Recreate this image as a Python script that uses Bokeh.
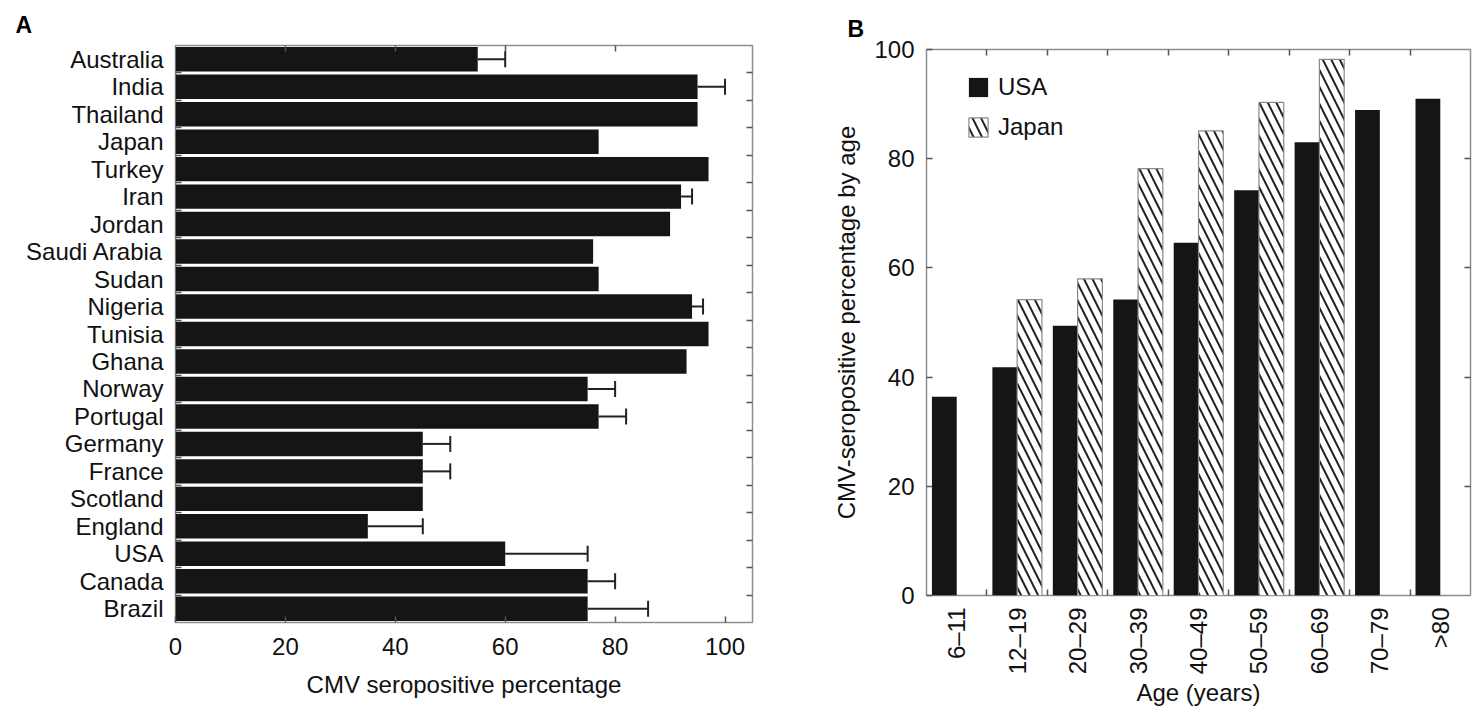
import math
from bokeh.plotting import figure
from bokeh.models import (ColumnDataSource, FixedTicker, LinearAxis, Range1d, Whisker,
                          TeeHead, Legend, LegendItem)
from bokeh.transform import dodge
from bokeh.layouts import row, column
from bokeh.embed import file_html
from bokeh.resources import INLINE

# ---------------- data ----------------
countries = ["Australia", "India", "Thailand", "Japan", "Turkey", "Iran", "Jordan",
             "Saudi Arabia", "Sudan", "Nigeria", "Tunisia", "Ghana", "Norway", "Portugal",
             "Germany", "France", "Scotland", "England", "USA", "Canada", "Brazil"]
seropositive = [55, 95, 95, 77, 97, 92, 90, 76, 77, 94, 97, 93, 75, 77, 45, 45, 45, 35, 60, 75, 75]
error_upper = [5, 5, 0, 0, 0, 2, 0, 0, 0, 2, 0, 0, 5, 5, 5, 5, 0, 10, 15, 5, 11]
x_ticks_a = [0, 20, 40, 60, 80, 100]

age_groups = ["6\u201311", "12\u201319", "20\u201329", "30\u201339", "40\u201349",
              "50\u201359", "60\u201369", "70\u201379", ">80"]
usa_by_age = [36.4, 41.8, 49.4, 54.2, 64.6, 74.2, 83.0, 88.9, 91.0]
japan_by_age = [float("nan"), 54.2, 58.0, 78.2, 85.1, 90.3, 98.2, float("nan"), float("nan")]
y_ticks_b = [0, 20, 40, 60, 80, 100]

FONT = "Liberation Sans"
FS = "24px"
FRAME = "#8e8e8e"
TICK = "#555555"
BAR = "#151515"


def style_axis(ax, label_standoff, title_standoff):
    ax.axis_line_color = None
    ax.major_label_text_font = FONT
    ax.major_label_text_font_size = FS
    ax.major_label_text_color = "#111111"
    ax.major_label_standoff = label_standoff
    ax.axis_label_text_font = FONT
    ax.axis_label_text_font_size = FS
    ax.axis_label_text_font_style = "normal"
    ax.axis_label_text_color = "#111111"
    ax.axis_label_standoff = title_standoff
    ax.major_tick_line_color = TICK
    ax.minor_tick_line_color = TICK
    ax.major_tick_line_width = 1.5
    ax.minor_tick_line_width = 1.5


def tick_only_axis(minor):
    return LinearAxis(ticker=FixedTicker(ticks=[], minor_ticks=minor), axis_line_color=None,
                      major_tick_in=0, major_tick_out=0, minor_tick_in=6, minor_tick_out=0,
                      minor_tick_line_color=TICK, minor_tick_line_width=1.5,
                      major_label_standoff=0)


def panel_title(p, letter, offset):
    p.title.text = letter
    p.title.align = "left"
    p.title.offset = offset
    p.title.text_font = FONT
    p.title.text_font_size = "23px"
    p.title.text_font_style = "bold"
    p.title.text_color = "#000000"
    p.title.standoff = 15


# ---------------- panel A ----------------
n = len(countries)
ypos = [n - 1 - i for i in range(n)]
srcA = ColumnDataSource(dict(y=ypos, v=seropositive))

pA = figure(frame_width=577, frame_height=577, x_range=Range1d(0, 105),
            y_range=Range1d(-0.5, n - 0.5), output_backend="svg", toolbar_location=None,
            min_border_left=175, min_border_right=26, min_border_top=45, min_border_bottom=70)
pA.hbar(y="y", left=0, right="v", height=0.89, source=srcA, fill_color=BAR, line_color=None)

wb = [ypos[i] for i in range(n) if error_upper[i] > 0]
wl = [seropositive[i] for i in range(n) if error_upper[i] > 0]
wu = [seropositive[i] + error_upper[i] for i in range(n) if error_upper[i] > 0]
srcW = ColumnDataSource(dict(base=wb, lower=wl, upper=wu))
pA.add_layout(Whisker(source=srcW, base="base", lower="lower", upper="upper", dimension="width",
                      line_width=2, line_color="#222222", lower_head=None,
                      upper_head=TeeHead(size=16, line_width=2, line_color="#222222")))

pA.grid.visible = False
pA.outline_line_color = FRAME
pA.outline_line_width = 1.5

xa = pA.xaxis[0]
ya = pA.yaxis[0]
style_axis(xa, 15, 13)
style_axis(ya, 12, 12)
xa.ticker = FixedTicker(ticks=x_ticks_a)
xa.axis_label = "CMV seropositive percentage"
xa.major_tick_in = 6
xa.major_tick_out = 0
ya.ticker = FixedTicker(ticks=ypos, minor_ticks=[k + 0.5 for k in range(n - 1)])
ya.major_label_overrides = {ypos[i]: countries[i] for i in range(n)}
ya.major_tick_in = 0
ya.major_tick_out = 0
ya.minor_tick_in = 6
ya.minor_tick_out = 0

pA.add_layout(tick_only_axis(x_ticks_a[1:-1]), "above")
pA.add_layout(tick_only_axis([k + 0.5 for k in range(n - 1)]), "right")
panel_title(pA, "A", -160)

# ---------------- panel B ----------------
m = len(age_groups)
centers = [i + 0.5 for i in range(m)]
srcB = ColumnDataSource(dict(c=centers, usa=usa_by_age, japan=japan_by_age))

pB = figure(frame_width=544, frame_height=546, x_range=Range1d(0, m), y_range=Range1d(0, 100),
            output_backend="svg", toolbar_location=None,
            min_border_left=148, min_border_right=4, min_border_top=49, min_border_bottom=100)
r_usa = pB.vbar(x=dodge("c", -0.205, range=pB.x_range), top="usa", bottom=0, width=0.41,
                source=srcB, fill_color=BAR, line_color=None)
r_jp = pB.vbar(x=dodge("c", 0.205, range=pB.x_range), top="japan", bottom=0, width=0.41,
               source=srcB, fill_color="white", line_color="#8a8a8a", line_width=1.2,
               hatch_pattern="\\", hatch_color="#222222", hatch_scale=17, hatch_weight=2)

pB.grid.visible = False
pB.outline_line_color = FRAME
pB.outline_line_width = 1.5

xb = pB.xaxis[0]
yb = pB.yaxis[0]
style_axis(xb, 12, 2)
style_axis(yb, 12, 11)
xb.ticker = FixedTicker(ticks=centers, minor_ticks=list(range(1, m)))
xb.major_label_overrides = {centers[i]: age_groups[i] for i in range(m)}
xb.major_label_orientation = math.pi / 2
xb.major_tick_in = 0
xb.major_tick_out = 0
xb.minor_tick_in = 6
xb.minor_tick_out = 0
xb.axis_label = "Age (years)"
yb.ticker = FixedTicker(ticks=y_ticks_b)
yb.major_tick_in = 6
yb.major_tick_out = 0
yb.axis_label = "CMV-seropositive percentage by age"

pB.add_layout(tick_only_axis(list(range(1, m))), "above")
pB.add_layout(tick_only_axis(y_ticks_b[1:-1]), "right")

legend = Legend(items=[LegendItem(label="USA", renderers=[r_usa]),
                       LegendItem(label="Japan", renderers=[r_jp])],
                location=(40, 454), border_line_color=None, background_fill_alpha=0,
                label_text_font=FONT, label_text_font_size=FS, label_text_color="#111111",
                glyph_height=24, glyph_width=24, label_height=24, spacing=12,
                padding=0, margin=0, label_standoff=8)
pB.add_layout(legend)
panel_title(pB, "B", -79)

layout = row(column(pA), column(pB))
open("out.html", "w").write(file_html(layout, INLINE))
